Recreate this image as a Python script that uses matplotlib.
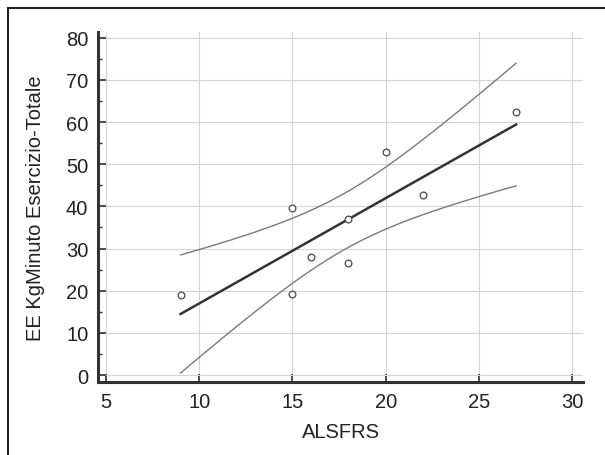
"""
EE KgMinuto Esercizio-Totale vs ALSFRS
linear fit with 95% confidence band
"""

import matplotlib.pyplot as plt
from matplotlib.patches import Rectangle
from matplotlib.ticker import MultipleLocator
import numpy as np

plt.rcParams['font.family'] = ['Liberation Sans', 'DejaVu Sans']

# data
alsfrs = np.array([9, 15, 15, 16, 18, 18, 20, 22, 27])
ee_tot = np.array([19, 19.2, 39.7, 28, 37, 26.6, 52.9, 42.7, 62.5])

xticks = [5, 10, 15, 20, 25, 30]
yticks = [0, 10, 20, 30, 40, 50, 60, 70, 80]

T_975 = 2.365   # t(0.975, df=7)

# least squares fit + confidence band of the mean
n = len(alsfrs)
slope, icpt = np.polyfit(alsfrs, ee_tot, 1)
resid = ee_tot - (icpt + slope*alsfrs)
s = np.sqrt(np.sum(resid**2) / (n - 2))
sxx = np.sum((alsfrs - alsfrs.mean())**2)

xf = np.linspace(alsfrs.min(), alsfrs.max(), 100)
yf = icpt + slope*xf
hw = T_975 * s * np.sqrt(1/n + (xf - alsfrs.mean())**2 / sxx)

fig = plt.figure(figsize=(6.05, 4.56), dpi=100)
fig.patches.append(Rectangle((8/605, -0.1), 1.2, 1 - 9/456 + 0.1,
                             transform=fig.transFigure, fill=False,
                             edgecolor='#222222', linewidth=1.5))

ax = fig.add_axes([0.162, 0.160, 0.802, 0.768])
ax.grid(True, color='#d4d4d4', linewidth=0.8)
ax.set_axisbelow(True)

ax.plot(xf, yf + hw, color='#7a7a7a', linewidth=1.0)
ax.plot(xf, yf - hw, color='#7a7a7a', linewidth=1.0)
ax.plot(xf, yf, color='#333333', linewidth=1.8)
ax.plot(alsfrs, ee_tot, 'o', markersize=4.8, markerfacecolor='white',
        markeredgecolor='#555555', markeredgewidth=1.0, zorder=5)

ax.set_xlim(4.57, 30.6)
ax.set_ylim(-1.66, 81.4)
ax.set_xticks(xticks)
ax.set_yticks(yticks)
ax.yaxis.set_minor_locator(MultipleLocator(5))

for side in ['top', 'right']:
    ax.spines[side].set_visible(False)
for side in ['left', 'bottom']:
    ax.spines[side].set_linewidth(2.2)
    ax.spines[side].set_color('#333333')

ax.tick_params(axis='both', which='major', direction='in', length=6,
               width=1.2, color='#333333', labelsize=14.5, labelcolor='#222222',
               pad=7)
ax.tick_params(axis='y', which='minor', direction='in', length=3,
               width=1.0, color='#333333')

ax.set_xlabel('ALSFRS', fontsize=14.5, color='#222222', labelpad=8)
ax.set_ylabel('EE KgMinuto Esercizio-Totale', fontsize=14.5, color='#222222',
              labelpad=15)

plt.savefig('out.png', dpi=100)
